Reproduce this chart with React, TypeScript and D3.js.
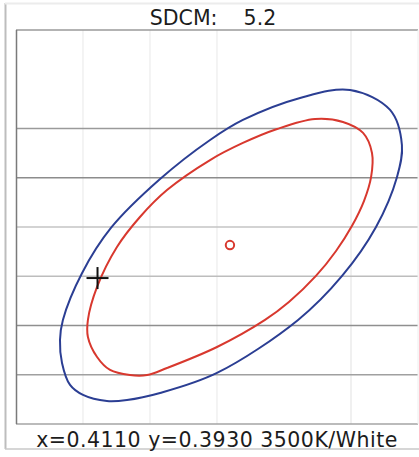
import { useEffect } from 'react';
import * as d3 from 'd3';

// chromaticity coordinates
const xTicks = [0.399, 0.402, 0.405, 0.408, 0.411, 0.414, 0.417];
const yTicks = [0.383, 0.386, 0.389, 0.392, 0.395, 0.398, 0.401, 0.404, 0.407];

const outerEllipse: [number, number][] = [
  [0.40769, 0.4003], [0.40916, 0.40152], [0.41172, 0.40286], [0.41396, 0.40335],
  [0.41575, 0.40213], [0.41628, 0.39999], [0.41606, 0.39805], [0.41512, 0.395],
  [0.4136, 0.39202], [0.41163, 0.38934], [0.408, 0.38611], [0.40545, 0.38489],
  [0.40397, 0.38446], [0.40307, 0.3844], [0.402, 0.38477], [0.40142, 0.38538],
  [0.40106, 0.38672], [0.40097, 0.38812], [0.4011, 0.38934], [0.40196, 0.3922],
  [0.40325, 0.39494], [0.40545, 0.39792],
];

const innerEllipse: [number, number][] = [
  [0.40769, 0.39908], [0.40916, 0.40012], [0.41069, 0.40097], [0.41239, 0.40158],
  [0.41364, 0.4014], [0.41454, 0.40073], [0.41494, 0.39951], [0.4149, 0.39805],
  [0.41458, 0.39658], [0.41404, 0.39506], [0.41333, 0.39354], [0.41243, 0.39202],
  [0.41122, 0.39043], [0.41015, 0.38934], [0.408, 0.38769], [0.40576, 0.38641],
  [0.40487, 0.38598], [0.4041, 0.38598], [0.40321, 0.38629], [0.40263, 0.38708],
  [0.40222, 0.3883], [0.40222, 0.38934], [0.40263, 0.39135], [0.40352, 0.39378],
  [0.40455, 0.39561], [0.40576, 0.39725],
];

const targetPoint: [number, number] = [0.40858, 0.3939];
const measuredPoint: [number, number] = [0.40265, 0.39189];

const title = 'SDCM:    5.2';
const footer = 'x=0.4110 y=0.3930 3500K/White';

// grid line shades as they look in the picture (bottom to top, left to right)
const hGridColors = ['none', '#a0a0a0', '#8f8f8f', '#bdbdbd', '#c4c4c4', '#8c8c8c', '#9a9a9a', 'none', 'none'];
const vGridColors = ['none', '#ececec', '#ececec', '#ececec', 'none', '#e6e6e6', 'none'];

export default function App() {
  useEffect(() => {
    document.body.style.margin = '0';
  }, []);

  const width = 419;
  const height = 457;
  const left = 16;
  const right = 418;
  const top = 30;
  const bottom = 424;

  const x = d3.scaleLinear().domain([xTicks[0], xTicks[xTicks.length - 1]]).range([left, right]);
  const y = d3.scaleLinear().domain([yTicks[0], yTicks[yTicks.length - 1]]).range([bottom, top]);

  const line = d3.line<[number, number]>()
    .x(d => x(d[0]))
    .y(d => y(d[1]))
    .curve(d3.curveCatmullRomClosed.alpha(0.5));

  const font = '"DejaVu Sans", Verdana, sans-serif';
  const px = x(measuredPoint[0]);
  const py = y(measuredPoint[1]);

  return (
    <svg width={width} height={height} style={{ display: 'block', background: '#fff' }}>
      {/* outer panel */}
      <line x1={5.5} x2={5.5} y1={3} y2={449} stroke="#bdbdbd" strokeWidth={2} />
      <line x1={5} x2={419} y1={3.5} y2={3.5} stroke="#ececec" strokeWidth={2} />
      <line x1={5} x2={419} y1={449} y2={449} stroke="#c8c8c8" strokeWidth={1.5} />

      {/* grid */}
      {xTicks.map((t, i) => (
        <line key={'v' + i} x1={x(t)} x2={x(t)} y1={top} y2={bottom} stroke={vGridColors[i]} strokeWidth={1.2} />
      ))}
      {yTicks.map((t, i) => (
        <line key={'h' + i} x1={left} x2={right} y1={y(t)} y2={y(t)} stroke={hGridColors[i]} strokeWidth={1.3} />
      ))}

      {/* plot frame */}
      <line x1={left} x2={right} y1={top} y2={top} stroke="#9a9a9a" strokeWidth={1.5} />
      <line x1={left} x2={right} y1={bottom} y2={bottom} stroke="#a5a5a5" strokeWidth={1.5} />
      <line x1={right} x2={right} y1={top} y2={bottom} stroke="#eeeeee" strokeWidth={1} />
      <line x1={left + 0.5} x2={left + 0.5} y1={top} y2={bottom} stroke="#7a7a7a" strokeWidth={1.5} />

      {/* ellipses */}
      <path d={line(outerEllipse) || ''} fill="none" stroke="#2b3e93" strokeWidth={2} />
      <path d={line(innerEllipse) || ''} fill="none" stroke="#d8382e" strokeWidth={2} />

      {/* target centre */}
      <circle cx={x(targetPoint[0])} cy={y(targetPoint[1])} r={4.2} fill="none" stroke="#d8382e" strokeWidth={2} />

      {/* measured point */}
      <g stroke="#111" strokeWidth={2}>
        <line x1={px - 11} x2={px + 11} y1={py} y2={py} />
        <line x1={px} x2={px} y1={py - 11} y2={py + 11} />
      </g>

      <text x={213} y={25} textAnchor="middle" fontFamily={font} fontSize={20.5} fill="#1c1c1c" style={{ whiteSpace: 'pre' }}>
        {title}
      </text>
      <text x={217} y={447} textAnchor="middle" fontFamily={font} fontSize={20.5} letterSpacing={0.5} fill="#1c1c1c">
        {footer}
      </text>
    </svg>
  );
}
